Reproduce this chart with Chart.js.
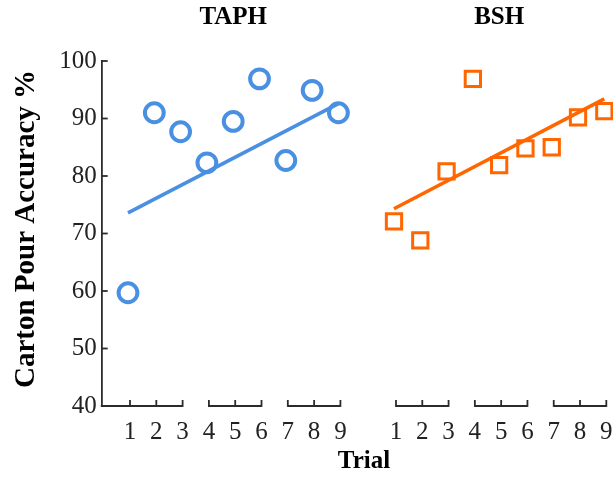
<!DOCTYPE html>
<html><head><meta charset="utf-8">
<script src="https://cdn.jsdelivr.net/npm/chart.js@4/dist/chart.umd.min.js"></script>
<style>
html,body{margin:0;padding:0;background:#fff;overflow:hidden;}
#wrap{position:relative;width:613px;height:477px;overflow:hidden;}
#c1{position:absolute;left:0;top:0;}
#c2{position:absolute;left:353px;top:0;}
</style></head><body>
<div id="wrap">
<canvas id="c1" width="613" height="477"></canvas>
<canvas id="c2" width="300" height="477"></canvas>
</div>
<script>
// ---- data ----
const trials = [1, 2, 3, 4, 5, 6, 7, 8, 9];
const taphAccuracy = [59.7, 91.0, 87.7, 82.3, 89.5, 96.9, 82.7, 94.9, 91.0];
const bshAccuracy = [72.1, 68.8, 80.8, 96.9, 81.9, 84.8, 85.0, 90.2, 91.3];
const trendTrials = [1, 9];
const taphTrend = [73.6, 92.6];
const bshTrend = [74.3, 93.4];
const yTicks = [40, 50, 60, 70, 80, 90, 100];
const xTickLabels = ['1', '2', '3', '4', '5', '6', '7', '8', '9'];
const bracketGroups = [[1, 3], [4, 6], [7, 9]];
const panelTitles = ['TAPH', 'BSH'];
const xAxisTitle = 'Trial';
const yAxisTitle = 'Carton Pour Accuracy %';

// ---- styles ----
const BLUE = '#4A90E2';
const ORANGE = '#FF6600';
const AXIS = '#2b2b2b';
const TEXT = '#222';
const SERIF = '"Liberation Serif", "Times New Roman", serif';
const tickFont = { family: SERIF, size: 25 };

const toPts = (xs, ys) => xs.map((x, i) => ({ x: x, y: ys[i] }));

const decor = {
  id: 'decor',
  afterDraw(chart, args, o) {
    const ctx = chart.ctx;
    const xs = chart.scales.x, ys = chart.scales.y;
    const area = chart.chartArea;
    const b = area.bottom;
    const off = 2;
    ctx.save();
    ctx.strokeStyle = AXIS;
    ctx.lineWidth = 1.8;
    ctx.lineCap = 'butt';
    bracketGroups.forEach((g, i) => {
      const x0 = (o.fromAxis && i === 0) ? area.left - 0.9 : xs.getPixelForValue(g[0]) + off;
      const x1 = xs.getPixelForValue(g[1]) + off;
      ctx.beginPath();
      ctx.moveTo(x0, b);
      ctx.lineTo(x1, b);
      ctx.stroke();
      for (let v = g[0]; v <= g[1]; v++) {
        const px = xs.getPixelForValue(v) + off;
        ctx.beginPath();
        ctx.moveTo(px, b + 0.9);
        ctx.lineTo(px, b - 6);
        ctx.stroke();
      }
    });
    if (o.yTicks) {
      yTicks.forEach(v => {
        const py = ys.getPixelForValue(v);
        ctx.beginPath();
        ctx.moveTo(area.left, py);
        ctx.lineTo(area.left + 6, py);
        ctx.stroke();
      });
    }
    ctx.fillStyle = '#000';
    ctx.textAlign = 'center';
    ctx.textBaseline = 'middle';
    ctx.font = 'bold 25px ' + SERIF;
    ctx.fillText(o.title, xs.getPixelForValue(5), area.top - 43);
    if (o.axisTitles) {
      ctx.fillText(xAxisTitle, 364, 462);
      ctx.translate(27, 229);
      ctx.rotate(-Math.PI / 2);
      ctx.font = 'bold 29px ' + SERIF;
      ctx.fillText(yAxisTitle, 0, 0);
    }
    ctx.restore();
  }
};

function makeChart(id, values, trend, color, style, radius, bw, isLeft) {
  return new Chart(document.getElementById(id), {
    data: {
      datasets: [
        {
          type: 'line', data: toPts(trendTrials, trend), borderColor: color,
          borderWidth: 3.6, pointRadius: 0, fill: false, order: 2
        },
        {
          type: 'scatter', data: toPts(trials, values), pointStyle: style,
          pointRadius: radius, borderWidth: bw, borderColor: color,
          backgroundColor: 'rgba(0,0,0,0)', order: 1
        }
      ]
    },
    options: {
      responsive: false, animation: false, devicePixelRatio: 1,
      clip: false,
      layout: { padding: isLeft ? { left: 0, right: 258.8, top: 61, bottom: 19 } : { left: 14.7, right: 40.8, top: 61, bottom: 19 } },
      plugins: {
        legend: { display: false }, tooltip: { enabled: false }, title: { display: false },
        decor: { title: isLeft ? panelTitles[0] : panelTitles[1], fromAxis: isLeft, yTicks: isLeft, axisTitles: isLeft }
      },
      scales: {
        x: {
          type: 'linear', min: 0, max: isLeft ? 9.6 : 9.3,
          afterBuildTicks: s => { s.ticks = trials.map(v => ({ value: v })); },
          ticks: {
            callback: v => { const i = trials.indexOf(v); return i >= 0 ? xTickLabels[i] : ''; },
            font: tickFont, color: TEXT, padding: 11, labelOffset: 2, maxRotation: 0, autoSkip: false
          },
          grid: { display: false, drawTicks: false }, border: { display: false }
        },
        y: {
          type: 'linear', min: 40, max: 100, display: isLeft,
          afterBuildTicks: s => { s.ticks = yTicks.map(v => ({ value: v })); },
          afterFit: s => { s.width = isLeft ? 101.7 : 0; },
          ticks: { font: tickFont, color: TEXT, padding: 5 },
          grid: { display: false, drawTicks: false },
          border: { display: true, color: AXIS, width: 1.8 }
        }
      }
    },
    plugins: [decor]
  });
}

makeChart('c1', taphAccuracy, taphTrend, BLUE, 'circle', 9.4, 4, true);
makeChart('c2', bshAccuracy, bshTrend, ORANGE, 'rect', 10.8, 3, false);
</script>
</body></html>
